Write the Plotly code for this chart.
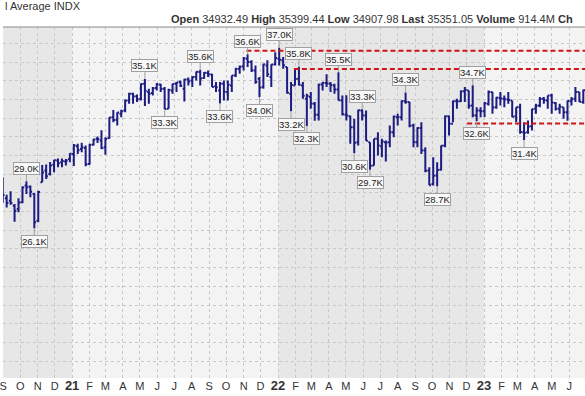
import plotly.graph_objects as go

# ---------------- data (weekly bars, dated by the Monday of each week) ----------------
week_start = [
    "2020-08-31", "2020-09-07", "2020-09-14", "2020-09-21", "2020-09-28", "2020-10-05", "2020-10-12",
    "2020-10-19", "2020-10-26", "2020-11-02", "2020-11-09", "2020-11-16", "2020-11-23", "2020-11-30",
    "2020-12-07", "2020-12-14", "2020-12-21", "2020-12-28",
    "2021-01-04", "2021-01-11", "2021-01-18", "2021-01-25", "2021-02-01", "2021-02-08", "2021-02-15",
    "2021-02-22", "2021-03-01", "2021-03-08", "2021-03-15", "2021-03-22", "2021-03-29", "2021-04-05",
    "2021-04-12", "2021-04-19", "2021-04-26", "2021-05-03", "2021-05-10", "2021-05-17", "2021-05-24",
    "2021-05-31", "2021-06-07", "2021-06-14", "2021-06-21", "2021-06-28", "2021-07-05", "2021-07-12",
    "2021-07-19", "2021-07-26", "2021-08-02", "2021-08-09", "2021-08-16", "2021-08-23", "2021-08-30",
    "2021-09-06", "2021-09-13", "2021-09-20", "2021-09-27", "2021-10-04", "2021-10-11", "2021-10-18",
    "2021-10-25", "2021-11-01", "2021-11-08", "2021-11-15", "2021-11-22", "2021-11-29", "2021-12-06",
    "2021-12-13", "2021-12-20", "2021-12-27",
    "2022-01-03", "2022-01-10", "2022-01-17", "2022-01-24", "2022-01-31", "2022-02-07", "2022-02-14",
    "2022-02-21", "2022-02-28", "2022-03-07", "2022-03-14", "2022-03-21", "2022-03-28", "2022-04-04",
    "2022-04-11", "2022-04-18", "2022-04-25", "2022-05-02", "2022-05-09", "2022-05-16", "2022-05-23",
    "2022-05-30", "2022-06-06", "2022-06-13", "2022-06-20", "2022-06-27", "2022-07-04", "2022-07-11",
    "2022-07-18", "2022-07-25", "2022-08-01", "2022-08-08", "2022-08-15", "2022-08-22", "2022-08-29",
    "2022-09-05", "2022-09-12", "2022-09-19", "2022-09-26", "2022-10-03", "2022-10-10", "2022-10-17",
    "2022-10-24", "2022-10-31", "2022-11-07", "2022-11-14", "2022-11-21", "2022-11-28", "2022-12-05",
    "2022-12-12", "2022-12-19", "2022-12-26",
    "2023-01-02", "2023-01-09", "2023-01-16", "2023-01-23", "2023-01-30", "2023-02-06", "2023-02-13",
    "2023-02-20", "2023-02-27", "2023-03-06", "2023-03-13", "2023-03-20", "2023-03-27", "2023-04-03",
    "2023-04-10", "2023-04-17", "2023-04-24", "2023-05-01", "2023-05-08", "2023-05-15", "2023-05-22",
    "2023-05-29", "2023-06-05", "2023-06-12", "2023-06-19", "2023-06-26",
]

opens = [
    28654, 27940, 27800, 27500, 27300, 27700, 28700, 28650, 28200, 26600, 28900, 29600, 29400, 29950,
    30200, 30100, 30150, 30300,
    30600, 31050, 30900, 30950, 30000, 31150, 31500, 31400, 31000, 31550, 32800, 32650, 33000, 33200,
    33800, 34200, 34050, 33900, 34800, 34300, 34250, 34550, 34750, 34500, 33300, 34400, 34800, 34900,
    34500, 35050, 35000, 35200, 35500, 35150, 35450, 35350, 34650, 34400, 34800, 34300, 34700, 35300,
    35700, 35850, 36300, 36100, 35600, 35100, 34600, 35900, 35200, 35950,
    36300, 36200, 35800, 34200, 34700, 35100, 34700, 33900, 34000, 33600, 32950, 34750, 34850, 34800,
    34700, 34450, 33800, 32950, 32850, 32200, 31300, 33200, 32900, 31300, 29900, 31500, 31050, 31300,
    31300, 31900, 32800, 32800, 33750, 33700, 32300, 31300, 32150, 30800, 29600, 28800, 29300, 29650,
    31100, 32850, 32400, 33750, 33750, 34350, 34400, 33500, 32900, 33200,
    33150, 33600, 34300, 33400, 33950, 33900, 33850, 33800, 32850, 33400, 31900, 31900, 32250, 33300,
    33500, 33900, 33800, 34100, 33650, 33300, 33400, 33100, 33750, 33900, 34300, 33700,
]

highs = [
    29199, 28150, 28367, 27600, 27940, 28660, 28958, 28700, 28250, 28400, 29933, 29967, 30116, 30250,
    30320, 30326, 30300, 30637,
    31193, 31200, 31272, 31100, 31200, 31500, 31643, 32010, 31600, 32800, 33227, 33100, 33250, 33850,
    34256, 34260, 34150, 34811, 35091, 34500, 34600, 34850, 34800, 34600, 34500, 34800, 34900, 35000,
    35100, 35171, 35250, 35530, 35631, 35500, 35600, 35400, 34900, 34900, 35000, 35000, 35300, 35765,
    35900, 36400, 36565, 36200, 35900, 35200, 36000, 36200, 35970, 36680,
    36953, 36400, 35800, 34900, 35700, 35824, 34900, 34200, 34300, 33700, 34800, 34900, 35372, 34900,
    34800, 35492, 34100, 34117, 32900, 32700, 33250, 33272, 33200, 31300, 31510, 31900, 31500, 31400,
    32300, 32900, 33000, 33800, 34281, 33700, 32400, 32200, 32500, 31000, 29800, 30400, 30100, 31100,
    32900, 32900, 33800, 33900, 34400, 34600, 34400, 34712, 33400, 33400,
    33700, 34400, 34300, 34000, 34300, 34100, 34300, 33800, 33400, 33600, 32500, 32600, 33300, 33600,
    34000, 34000, 34100, 34200, 33700, 33600, 33400, 33800, 34000, 34600, 34300, 34450,
]

lows = [
    27664, 27385, 27550, 26537, 27100, 27650, 28200, 28000, 26143, 26500, 28900, 29100, 29300, 29500,
    29800, 29800, 29900, 30100,
    29881, 30600, 30700, 29856, 29950, 31100, 31250, 30900, 30547, 31500, 32500, 32300, 32800, 33100,
    33600, 33600, 33700, 33800, 33473, 33600, 34100, 34400, 34300, 33271, 33300, 34200, 34300, 34600,
    33741, 34700, 34600, 35000, 34690, 35100, 35200, 34600, 34300, 33613, 33800, 33800, 34300, 35200,
    35400, 35600, 35800, 35500, 34800, 34006, 34500, 35200, 34600, 35900,
    35900, 35700, 34200, 33160, 34700, 34700, 33900, 32272, 33300, 32578, 32600, 34400, 34600, 34300,
    34200, 33800, 32900, 32600, 31208, 30635, 31100, 32600, 31390, 29653, 29900, 30500, 30400, 30143,
    31000, 31600, 32300, 32600, 33600, 32200, 31000, 31000, 30600, 29500, 28715, 28700, 28660, 29600,
    31000, 31700, 32500, 33300, 33700, 33700, 33300, 32800, 32573, 32800,
    32812, 33500, 33000, 33300, 33500, 33400, 33600, 32800, 32500, 31800, 31430, 31800, 32000, 33000,
    33400, 33600, 33300, 33000, 33200, 33000, 32700, 32590, 33500, 33700, 33700, 33600,
]

closes = [
    28133, 27666, 27657, 27173, 27682, 28586, 28606, 28335, 26502, 28323, 29480, 29263, 29910, 30218,
    30046, 30179, 30200, 30606,
    31098, 30814, 30997, 29983, 31148, 31458, 31494, 30932, 31496, 32779, 32628, 33072, 33153, 33800,
    34200, 34043, 33875, 34778, 34382, 34208, 34529, 34756, 34480, 33290, 34433, 34786, 34870, 34687,
    35061, 34935, 35208, 35515, 35120, 35455, 35369, 34607, 34584, 34798, 34326, 34746, 35295, 35677,
    35820, 36328, 36100, 35602, 34899, 34580, 35971, 35365, 35950, 36338,
    36231, 35912, 34265, 34725, 35089, 34738, 34079, 34059, 33615, 32944, 34754, 34861, 34818, 34721,
    34451, 33811, 32977, 32899, 32197, 31262, 33213, 32900, 31393, 29888, 31501, 31097, 31338, 31289,
    31900, 32845, 32803, 33761, 33707, 32283, 31318, 32151, 30822, 29590, 28726, 29297, 29634, 31082,
    32861, 32403, 33748, 33746, 34347, 34430, 33477, 32920, 33203, 33147,
    33631, 34302, 33375, 33978, 33926, 33869, 33827, 32817, 33391, 31910, 31862, 32238, 33274, 33485,
    33886, 33809, 34098, 33674, 33300, 33427, 33093, 33762, 33876, 34299, 33727, 34408,
]

# labelled swing highs / lows
label_dates = ["2020-10-12", "2020-10-26", "2021-05-10", "2021-06-14", "2021-08-16", "2021-09-20",
               "2021-11-08", "2021-11-29", "2022-01-03", "2022-01-24", "2022-02-07", "2022-02-21",
               "2022-04-18", "2022-05-16", "2022-05-30", "2022-06-13", "2022-08-15", "2022-10-10",
               "2022-12-12", "2022-12-19", "2023-03-13"]
label_values = [28958, 26143, 35091, 33271, 35631, 33613, 36565, 34006, 36953, 33160, 35824, 32272,
                35492, 30635, 33272, 29653, 34281, 28660, 34712, 32573, 31430]
label_text = ["29.0K", "26.1K", "35.1K", "33.3K", "35.6K", "33.6K", "36.6K", "34.0K", "37.0K", "33.2K",
              "35.8K", "32.3K", "35.5K", "30.6K", "33.3K", "29.7K", "34.3K", "28.7K", "34.7K", "32.6K",
              "31.4K"]
label_side = ["high", "low", "high", "low", "high", "low", "high", "low", "high", "low", "high", "low",
              "high", "low", "high", "low", "high", "low", "high", "low", "low"]

# horizontal resistance / support levels
level_start = ["2021-11-06", "2022-01-29", "2022-12-02"]
level_end = ["2023-06-29", "2023-06-29", "2023-06-29"]
level_value = [36780, 35680, 32420]

# month axis
month_ticks = ["2020-09-01", "2020-10-01", "2020-11-01", "2020-12-01",
               "2021-01-01", "2021-02-01", "2021-03-01", "2021-04-01", "2021-05-01", "2021-06-01",
               "2021-07-01", "2021-08-01", "2021-09-01", "2021-10-01", "2021-11-01", "2021-12-01",
               "2022-01-01", "2022-02-01", "2022-03-01", "2022-04-01", "2022-05-01", "2022-06-01",
               "2022-07-01", "2022-08-01", "2022-09-01", "2022-10-01", "2022-11-01", "2022-12-01",
               "2023-01-01", "2023-02-01", "2023-03-01", "2023-04-01", "2023-05-01", "2023-06-01"]
YEAR_STYLE = "<span style='font-size:13px'><b>{}</b></span>"
month_text = ["S", "O", "N", "D",
              YEAR_STYLE.format("21"), "F", "M", "A", "M", "J", "J", "A", "S", "O", "N", "D",
              YEAR_STYLE.format("22"), "F", "M", "A", "M", "J", "J", "A", "S", "O", "N", "D",
              YEAR_STYLE.format("23"), "F", "M", "A", "M", "J"]

year_bands_dark = [("2020-08-01", "2021-01-01"), ("2022-01-01", "2023-01-01")]

# ---------------- figure ----------------
BAR = "#1c1c82"
FONT = "Liberation Sans, Arial, sans-serif"
GRID = "#c8c8c8"

fig = go.Figure()

fig.add_trace(go.Ohlc(
    x=week_start, open=opens, high=highs, low=lows, close=closes,
    increasing=dict(line=dict(color=BAR, width=2)),
    decreasing=dict(line=dict(color=BAR, width=2)),
    tickwidth=0.45, showlegend=False, hoverinfo="x+y",
))

for s, e, v in zip(level_start, level_end, level_value):
    fig.add_trace(go.Scatter(
        x=[s, e], y=[v, v], mode="lines",
        line=dict(color="#d11414", width=2, dash="5px,3px"),
        showlegend=False, hoverinfo="skip",
    ))

for d, v, t, side in zip(label_dates, label_values, label_text, label_side):
    fig.add_annotation(
        x=d, y=v, xref="x", yref="y", text=t,
        showarrow=True, arrowhead=0, arrowwidth=1, arrowcolor="#a0a0a0",
        ax=0, ay=-13 if side == "high" else 13,
        font=dict(family=FONT, size=9.5, color="#222222"),
        bgcolor="#f8f8f8", bordercolor="#a0a0a0", borderwidth=1, borderpad=0,
    )

for x0, x1 in year_bands_dark:
    fig.add_shape(type="rect", xref="x", yref="paper", x0=x0, x1=x1, y0=0, y1=1,
                  fillcolor="#e7e7e7", line=dict(width=0), layer="below")

fig.add_shape(type="line", xref="paper", yref="paper", x0=0, x1=1, y0=1, y1=1,
              line=dict(color="#8a8a8a", width=1))

fig.add_annotation(
    xref="paper", yref="paper", x=0, y=1, xanchor="left", yanchor="bottom", yshift=13,
    text="l Average INDX", showarrow=False,
    font=dict(family=FONT, size=11, color="#333333"),
)
fig.add_annotation(
    xref="paper", yref="paper", x=167 / 585, y=1, xanchor="left", yanchor="bottom", yshift=0,
    text=("<b>Open</b> 34932.49 <b>High</b> 35399.44 <b>Low</b> 34907.98 "
          "<b>Last</b> 35351.05 <b>Volume</b> 914.4M <b>Ch</b>"),
    showarrow=False,
    font=dict(family=FONT, size=11, color="#333333"),
)

fig.update_layout(
    width=585, height=396,
    margin=dict(l=0, r=0, t=27, b=18),
    paper_bgcolor="#ffffff", plot_bgcolor="#f3f3f3",
    font=dict(family=FONT, size=11, color="#333333"),
    showlegend=False,
    xaxis=dict(
        type="date", range=["2020-08-31 12:00", "2023-06-29"],
        rangeslider=dict(visible=False),
        tickmode="array", tickvals=month_ticks, ticktext=month_text,
        ticklabeloverflow="allow",
        showgrid=True, gridcolor=GRID, griddash="dot", gridwidth=1,
        zeroline=False, showline=False, ticks="",
        tickfont=dict(family=FONT, size=11, color="#333333"),
    ),
    yaxis=dict(
        range=[17180, 38198], tick0=24905, dtick=1118,
        showticklabels=False, showgrid=True, gridcolor=GRID, griddash="dot", gridwidth=1,
        zeroline=False, showline=False, ticks="",
    ),
)

fig.write_html(
    "out.html",
    config={"displayModeBar": False},
    post_script="document.body.style.margin='0px';document.body.style.overflow='hidden';",
)
